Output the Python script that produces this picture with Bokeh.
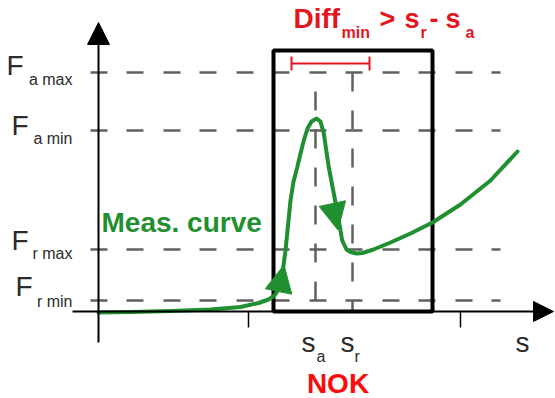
from bokeh.plotting import figure
from bokeh.models import Range1d, Arrow, NormalHead
from bokeh.core.properties import value
from bokeh.embed import file_html
from bokeh.resources import INLINE

# ---------------- data (schematic units: s to the right, F upward) ----------------
level_names = ["a max", "a min", "r max", "r min"]
level_F = [239, 181, 62, 11]

s_names = ["a", "r"]
s_pos = [217, 254]

window_s = [175, 334]
window_F = [0, 261]

diff_bracket_s = [193, 271]
diff_bracket_F = 248

axis_ticks_s = [150, 362]

curve_s = [0, 32, 72, 112, 142, 160, 170, 176, 180, 183, 185, 187, 189.5, 192, 195,
           198.7, 202, 205.3, 209, 213, 218, 222, 225.3, 230.3, 235.3, 240.3, 243.7,
           248, 252, 258, 264, 275, 292, 312, 334, 362, 392, 419]
curve_F = [-1, -0.5, 0.5, 2, 4.5, 8.5, 12, 16, 22, 33, 46, 61, 86, 111, 130,
           144, 158, 171, 183, 190, 193, 190, 178, 144, 118, 91, 71,
           62, 59.5, 58, 58.5, 62, 69, 78, 89, 107, 131, 160]

# direction arrows on the curve: (from s, from F) -> (to s, to F)
arrow_from_s = [179.5, 233.5]
arrow_from_F = [17.5, 109.5]
arrow_to_s = [185.5, 239.5]
arrow_to_F = [46.5, 81.5]

# ---------------- styling ----------------
GREEN = "#1f8f2f"
RED = "#e3161e"
NOK_RED = "#ff0a0a"
GREY = "#606060"
TXT = "#2b2b2b"
FONT = value("Liberation Sans")

p = figure(width=555, height=398, output_backend="svg", toolbar_location=None,
           x_range=Range1d(-98, 457), y_range=Range1d(-87, 311), min_border=0)
p.axis.visible = False
p.grid.visible = False
p.outline_line_color = None
p.background_fill_color = "white"
p.border_fill_color = "white"

# horizontal dashed level lines
for f in level_F:
    p.line([-8, 402], [f, f], line_color=GREY, line_width=2.5, line_dash="17 19 17 20")

# vertical dashed lines at s_a and s_r
p.line([s_pos[0], s_pos[0]], [level_F[0], level_F[3]], line_color=GREY, line_width=2.5,
       line_dash="19 19", line_dash_offset=19)
p.line([s_pos[1], s_pos[1]], [level_F[0], 0], line_color=GREY, line_width=2.5,
       line_dash="19 19")

# axes
p.add_layout(Arrow(end=NormalHead(size=22, fill_color="black", line_color="black"),
                   x_start=0, y_start=-31, x_end=0, y_end=289,
                   line_color="black", line_width=2))
p.add_layout(Arrow(end=NormalHead(size=20, fill_color="black", line_color="black"),
                   x_start=-26, y_start=0, x_end=455, y_end=0,
                   line_color="black", line_width=2))
for t in axis_ticks_s:
    p.line([t, t], [0, -16], line_color="black", line_width=1.5)

# window box
p.quad(left=[window_s[0]], right=[window_s[1]], bottom=[window_F[0]], top=[window_F[1]],
       fill_color=None, line_color="black", line_width=4)

# Diff bracket
p.line(diff_bracket_s, [diff_bracket_F, diff_bracket_F], line_color=RED, line_width=2)
for bs in diff_bracket_s:
    p.line([bs, bs], [diff_bracket_F - 7, diff_bracket_F + 7], line_color=RED, line_width=2)

# measurement curve
p.line(curve_s, curve_F, line_color=GREEN, line_width=4, line_join="round", line_cap="round")
for xs, ys, xe, ye in zip(arrow_from_s, arrow_from_F, arrow_to_s, arrow_to_F):
    p.add_layout(Arrow(end=NormalHead(size=27, fill_color=GREEN, line_color=GREEN, line_width=1),
                       x_start=xs, y_start=ys, x_end=xe, y_end=ye, line_alpha=0))


def txt(x, y, s, size, color=TXT, bold=False, align="left"):
    # y is the visual baseline; compensate the renderer's baseline placement
    p.text(x=[x], y=[y + 0.36 * size], text=[s], text_font=FONT, text_font_size=f"{size}px",
           text_font_style="bold" if bold else "normal", text_color=color,
           text_align=align, text_baseline="alphabetic")


# F level labels
F_x = [-92, -87, -87, -83]
F_base = [236, 176, 61, 15]
sub_base = [226, 167, 52, 4]
for name, fx, fb, sb in zip(level_names, F_x, F_base, sub_base):
    txt(fx, fb, "F", 28)
    txt(-26, sb, name, 16, align="right")

# s labels
txt(203, -41, "s", 28)
txt(218, -51, s_names[0], 16)
txt(242, -41, "s", 28)
txt(256, -51, s_names[1], 16)
txt(417, -41, "s", 28)

# NOK
txt(239.5, -82, "NOK", 28, color=NOK_RED, bold=True, align="center")

# Meas. curve
txt(3, 79, "Meas. curve", 28, color=GREEN, bold=True)

# Diff_min > s_r - s_a
txt(195, 283, "Diff", 28, color=RED, bold=True)
txt(243, 273, "min", 16, color=RED, bold=True)
txt(281, 283, ">", 27, color=RED, bold=True)
txt(306, 283, "s", 27, color=RED, bold=True)
txt(322, 273, "r", 16, color=RED, bold=True)
txt(331, 283, "-", 27, color=RED, bold=True)
txt(347, 283, "s", 27, color=RED, bold=True)
txt(367, 273, "a", 16, color=RED, bold=True)

open("out.html", "w").write(file_html(p, INLINE))
